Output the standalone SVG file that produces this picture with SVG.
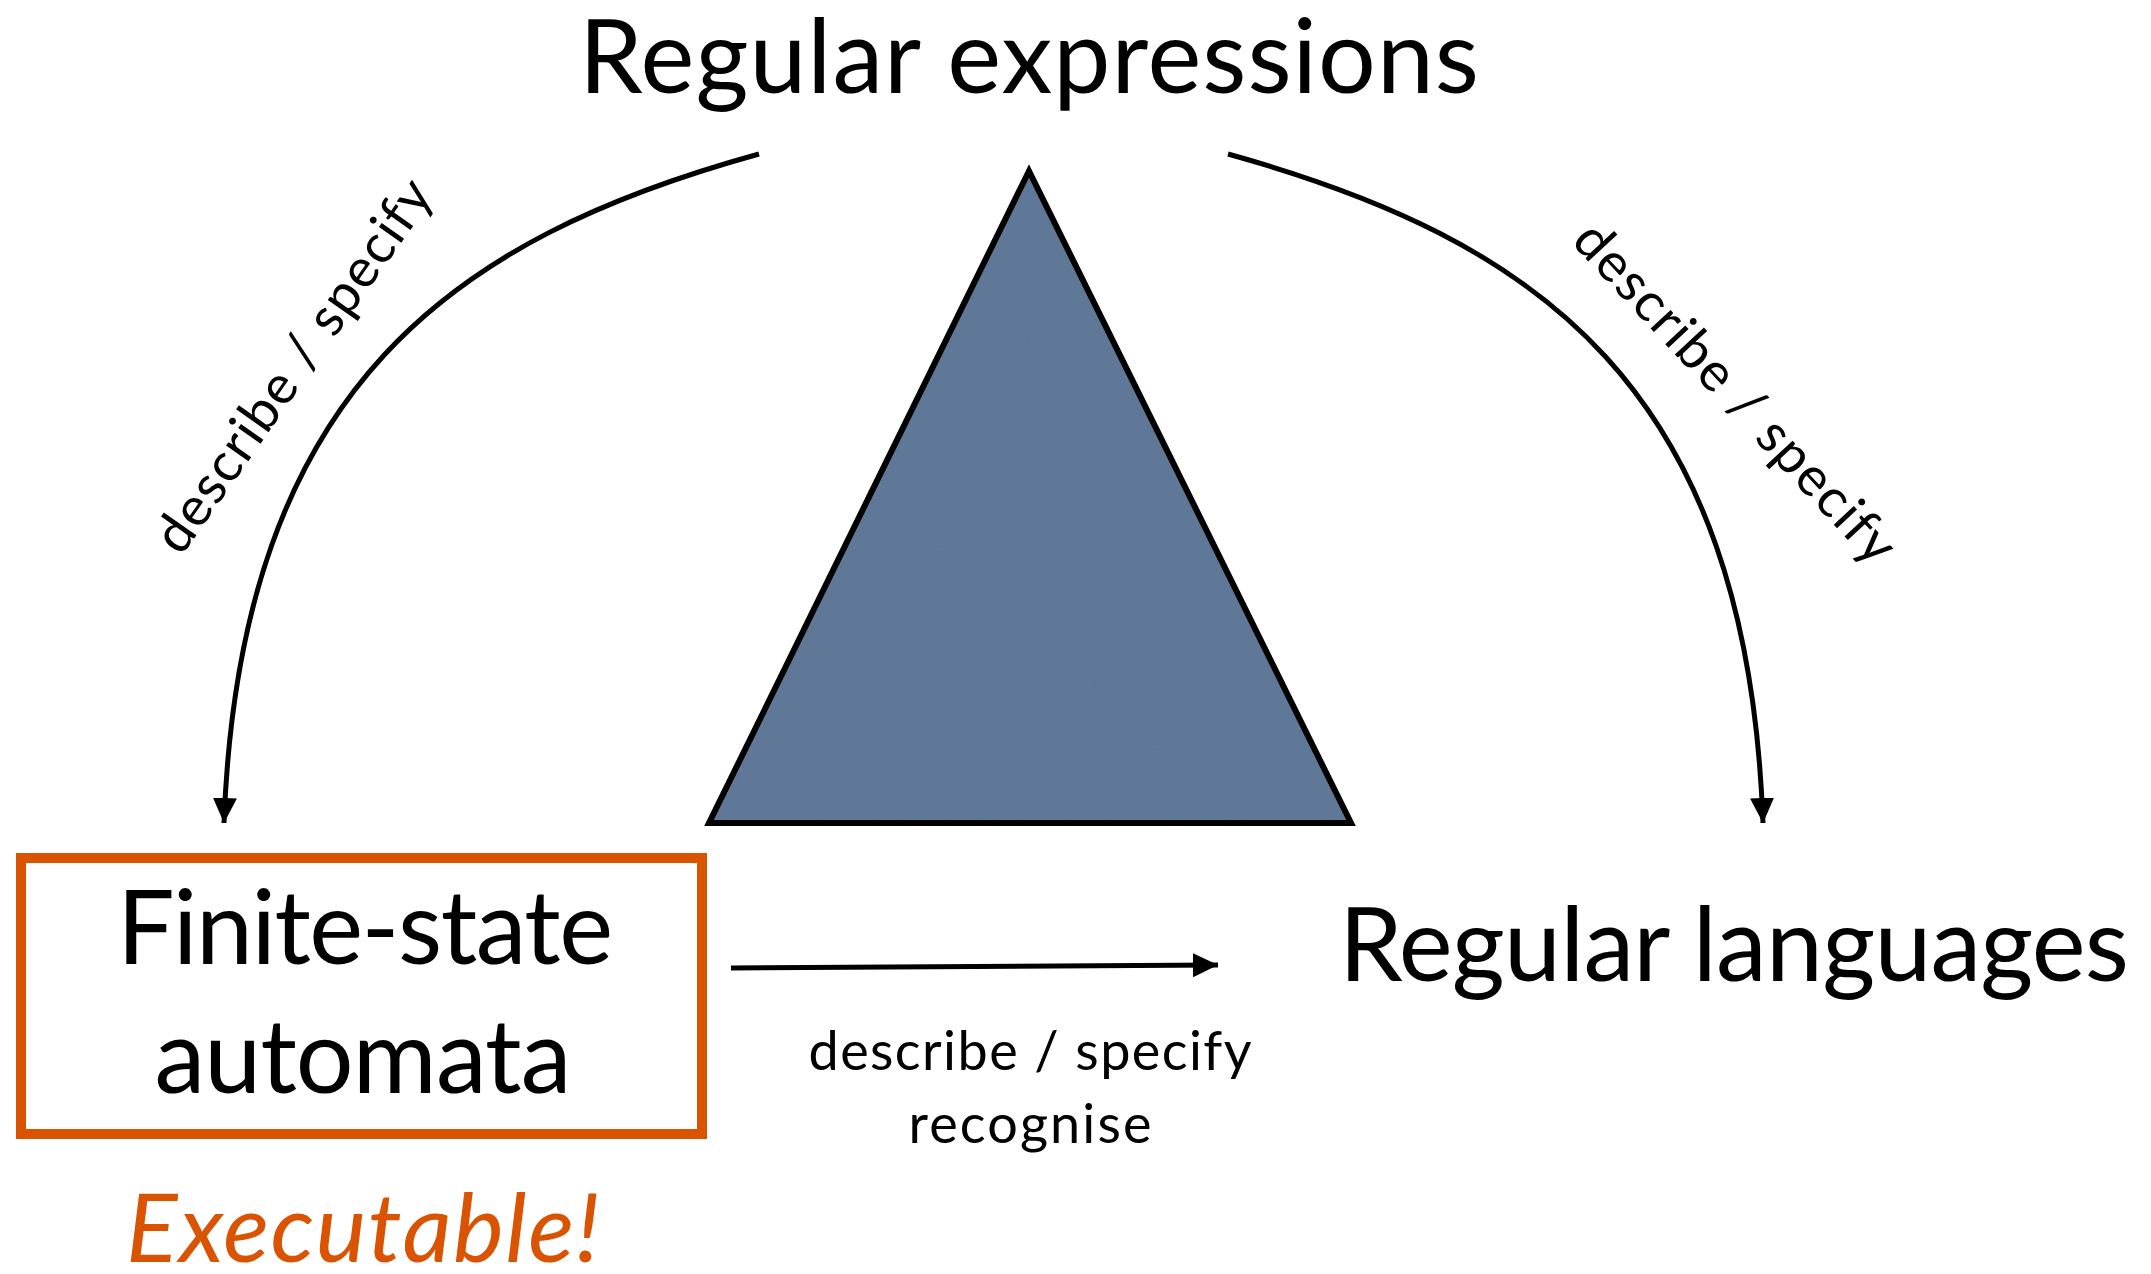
<svg xmlns="http://www.w3.org/2000/svg" width="2151" height="1274" viewBox="0 0 2151 1274">
  <style>
    .title { font-family: Lato, "Liberation Sans", sans-serif; font-size: 102px; fill: #000; }
    .label { font-family: Lato, "Liberation Sans", sans-serif; font-size: 54px; fill: #000; }
    .exec  { font-family: Lato, "Liberation Sans", sans-serif; font-size: 96px; font-style: italic; fill: #d95300; }
    .conn  { fill: none; stroke: #000; stroke-width: 5; }
  </style>
  <defs>
    <!-- solid arrowhead, tip on the path end -->
    <marker id="head" markerUnits="userSpaceOnUse" markerWidth="28" markerHeight="26" refX="25" refY="12" orient="auto">
      <path d="M0,0 L25,12 L0,24 Z" fill="#000"/>
    </marker>
    <!-- fine paper grain for the triangle fill -->
    <filter id="grain" x="0" y="0" width="100%" height="100%">
      <feTurbulence type="fractalNoise" baseFrequency="0.7" numOctaves="3" seed="4" result="noise"/>
      <feColorMatrix in="noise" type="matrix" values="0 0 0 0 0  0 0 0 0 0  0 0 0 0 0  0 0 0 0.12 0" result="speck"/>
      <feComposite in="speck" in2="SourceGraphic" operator="in" result="clipped"/>
      <feMerge><feMergeNode in="SourceGraphic"/><feMergeNode in="clipped"/></feMerge>
    </filter>
  </defs>

  <rect width="2151" height="1274" fill="#fff"/>

  <!-- central triangle -->
  <g id="triangle">
    <polygon points="1029,171 709,823 1351,823" fill="#647c9b" filter="url(#grain)"/>
    <polygon points="1029,171 709,823 1351,823" fill="none" stroke="#000" stroke-width="6" stroke-linejoin="miter"/>
  </g>

  <!-- connectors and their labels -->
  <g id="connectors">
    <path class="conn" d="M759,154 C455,238 240,385 224,823" marker-end="url(#head)"/>
    <path class="conn" d="M1228,154 C1537,240 1747,385 1763,823" marker-end="url(#head)"/>
    <path class="conn" d="M731,968 L1218,965" marker-end="url(#head)"/>
    <text class="label" transform="translate(308,376) rotate(-55)" text-anchor="middle" textLength="442">describe / specify</text>
    <text class="label" transform="translate(1722,405) rotate(47)" text-anchor="middle" textLength="445">describe / specify</text>
    <text class="label" x="1030" y="1070" text-anchor="middle" textLength="443">describe / specify</text>
    <text class="label" x="1030" y="1143" text-anchor="middle" textLength="243">recognise</text>
  </g>

  <g id="regex">
    <text class="title" x="1029" y="93" text-anchor="middle" textLength="900">Regular expressions</text>
  </g>

  <g id="fsa">
    <rect x="21" y="858" width="681" height="276" fill="none" stroke="#d95300" stroke-width="10"/>
    <text class="title" x="365" y="964" text-anchor="middle" textLength="496">Finite-state</text>
    <text class="title" x="363" y="1093" text-anchor="middle" textLength="417">automata</text>
    <text class="exec" x="363" y="1262" text-anchor="middle" textLength="474">Executable!</text>
  </g>

  <g id="languages">
    <text class="title" x="1734" y="981" text-anchor="middle" textLength="790">Regular languages</text>
  </g>
</svg>
